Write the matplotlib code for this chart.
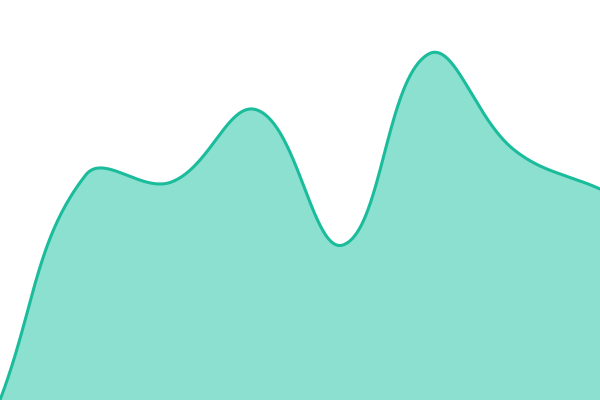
import numpy as np
import matplotlib.pyplot as plt

# data (8 evenly spaced points)
xs = [0, 1, 2, 3, 4, 5, 6, 7]
values = [0, 225, 218, 290, 155, 346, 250, 211]

line_color = "#1abc9c"
fill_color = "#8be0cf"

W, H = 600, 400
tension = 0.4


def spline_path(x, y, steps=80):
    # bezier spline like chart.js (tension 0.4), worked out in pixel space
    px = np.asarray(x, float) * W / (len(x) - 1)
    py = np.asarray(y, float)
    pts = np.column_stack([px, py])
    n = len(pts)
    prev_cp, next_cp = [], []
    for i in range(n):
        cur = pts[i]
        prv = pts[i - 1] if i > 0 else cur
        nxt = pts[i + 1] if i < n - 1 else cur
        d01 = np.hypot(*(cur - prv))
        d12 = np.hypot(*(nxt - cur))
        s01 = d01 / (d01 + d12)
        s12 = d12 / (d01 + d12)
        prev_cp.append(cur - tension * s01 * (nxt - prv))
        next_cp.append(cur + tension * s12 * (nxt - prv))
    out = []
    t = np.linspace(0, 1, steps)[:, None]
    for i in range(n - 1):
        p0, p1, p2, p3 = pts[i], next_cp[i], prev_cp[i + 1], pts[i + 1]
        p1 = np.clip(p1, [0, 0], [W, H])
        p2 = np.clip(p2, [0, 0], [W, H])
        seg = ((1 - t)**3 * p0 + 3 * (1 - t)**2 * t * p1
               + 3 * (1 - t) * t**2 * p2 + t**3 * p3)
        out.append(seg)
    out = np.vstack(out)
    return out[:, 0], out[:, 1]


cx, cy = spline_path(xs, values)

fig = plt.figure(figsize=(6, 4), dpi=100)
ax = fig.add_axes([0, 0, 1, 1])
ax.fill_between(cx, cy, 0, color=fill_color, linewidth=0)
ax.plot(cx, cy, color=line_color, linewidth=2.2)
ax.set_xlim(0, W)
ax.set_ylim(0, H)
ax.axis("off")
fig.savefig("out.png", dpi=100)
